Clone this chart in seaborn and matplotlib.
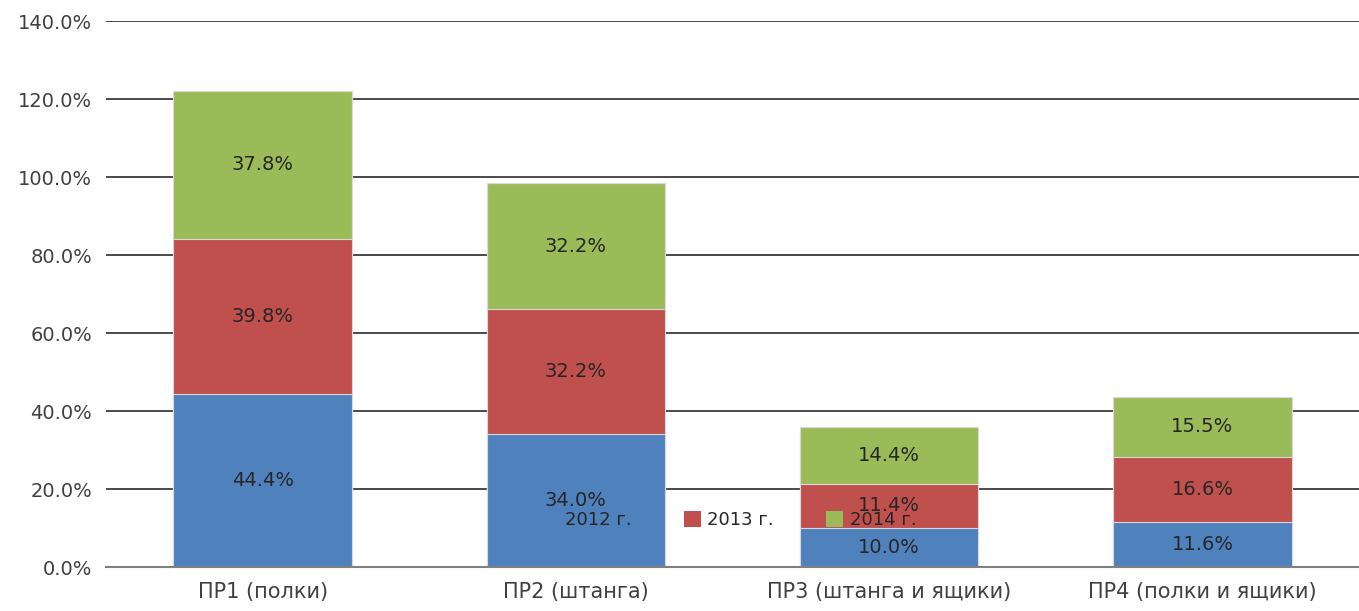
import numpy as np
import pandas as pd
import matplotlib
matplotlib.use("Agg")
import matplotlib.pyplot as plt
import seaborn as sns
from matplotlib.patches import Patch

categories = ["ПР1 (полки)", "ПР2 (штанга)", "ПР3 (штанга и ящики)", "ПР4 (полки и ящики)"]
years = ["2012 г.", "2013 г.", "2014 г."]
v2012 = [44.4, 34.0, 10.0, 11.6]
v2013 = [39.8, 32.2, 11.4, 16.6]
v2014 = [37.8, 32.2, 14.4, 15.5]
colors = ["#4F81BD", "#C0504D", "#9BBB59"]

sns.set_theme(style="white")
plt.rcParams["font.family"] = ["DejaVu Sans"]
tick_color = "#404040"
label_color = "#262626"

fig = plt.figure(figsize=(13.59, 6.11), dpi=100)
ax = fig.add_axes([0.078, 0.072, 0.922, 0.8936])

series = [v2012, v2013, v2014]
cum = np.cumsum(np.array(series), axis=0) / 100.0

# draw stacked bars from the top layer down so each layer shows its segment
for i in range(len(series) - 1, -1, -1):
    df = pd.DataFrame({"cat": categories, "val": cum[i]})
    sns.barplot(data=df, x="cat", y="val", color=colors[i], saturation=1,
                width=0.57, ax=ax, zorder=2, edgecolor="#d9d9d9", linewidth=0.8)

# value labels centred in each segment
for i, vals in enumerate(series):
    base = cum[i - 1] if i > 0 else np.zeros(len(categories))
    for j, v in enumerate(vals):
        ax.text(j, base[j] + v / 200.0, f"{v:.1f}%", ha="center", va="center",
                fontsize=14, color=label_color, zorder=4)

ax.set_ylim(0, 1.4)
ax.set_xlim(-0.5, 3.5)
ticks = np.arange(0, 1.41, 0.2)
ax.set_yticks(ticks)
ax.set_yticklabels([f"{t * 100:.1f}%" for t in ticks])
ax.yaxis.grid(True, color="#3c3c3c", linewidth=1.3, zorder=1)
ax.set_axisbelow(True)
ax.tick_params(axis="both", length=0, colors=tick_color)
ax.tick_params(axis="y", pad=10, labelsize=14)
ax.tick_params(axis="x", pad=11, labelsize=15)
ax.set_xlabel("")
ax.set_ylabel("")
for s in ["top", "right", "left"]:
    ax.spines[s].set_visible(False)
ax.spines["bottom"].set_color("#808080")
ax.spines["bottom"].set_linewidth(1.5)

handles = [Patch(facecolor=c, edgecolor="none") for c in colors]
leg = ax.legend(handles, years, loc="center", bbox_to_anchor=(0.497, 0.086),
                ncol=3, frameon=False, fontsize=13, handlelength=0.95,
                handleheight=0.95, handletextpad=0.35, columnspacing=2.9)
leg.set_zorder(5)
for t in leg.get_texts():
    t.set_color(label_color)

fig.savefig("out.png", dpi=100)
